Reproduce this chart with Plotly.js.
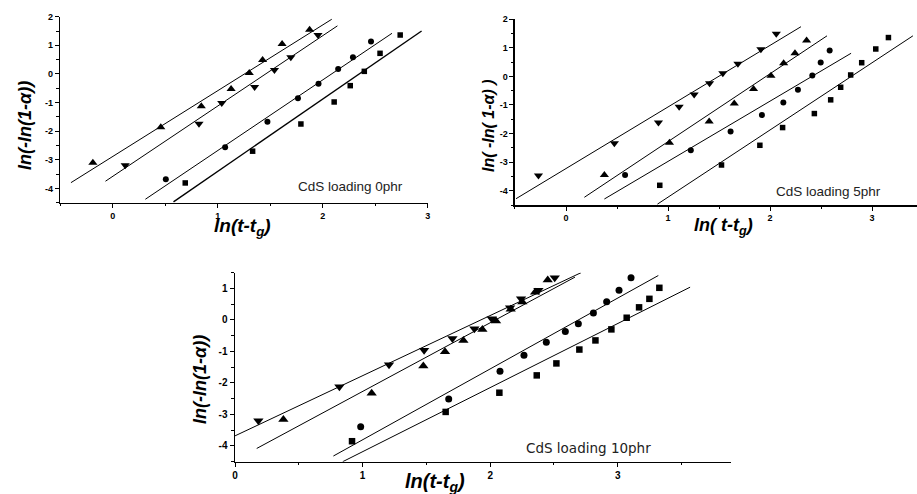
<!DOCTYPE html>
<html>
<head>
<meta charset="utf-8">
<script src="https://cdn.plot.ly/plotly-3.0.1.min.js"></script>
<style>html,body{margin:0;padding:0;background:#fff;}#chart{width:917px;height:494px;}</style>
</head>
<body>
<div id="chart"></div>
<script>
// ---------- Panel 1: CdS loading 0phr ----------
const p1UpX = [-0.19, 0.457, 0.843, 1.127, 1.30, 1.427, 1.613, 1.875];
const p1UpY = [-3.10, -1.86, -1.13, -0.53, 0.03, 0.49, 1.05, 1.54];
const p1DownX = [0.118, 0.821, 1.038, 1.351, 1.54, 1.696, 1.955];
const p1DownY = [-3.19, -1.74, -1.02, -0.46, 0.14, 0.58, 1.36];
const p1CircX = [0.505, 1.07, 1.473, 1.764, 1.96, 2.147, 2.288, 2.46];
const p1CircY = [-3.68, -2.56, -1.67, -0.85, -0.34, 0.17, 0.58, 1.13];
const p1SqX = [0.69, 1.332, 1.792, 2.109, 2.262, 2.396, 2.546, 2.738];
const p1SqY = [-3.81, -2.70, -1.75, -0.98, -0.41, 0.09, 0.72, 1.36];
const p1FitUpX = [-0.399, 2.086], p1FitUpY = [-3.80, 1.91];
const p1FitDownX = [-0.07, 2.14], p1FitDownY = [-3.75, 1.68];
const p1FitCircX = [0.31, 2.66], p1FitCircY = [-4.38, 1.42];
const p1FitSqX = [0.578, 2.942], p1FitSqY = [-4.47, 1.50];

// ---------- Panel 2: CdS loading 5phr ----------
const p2DownX = [-0.27, 0.474, 0.906, 1.109, 1.256, 1.407, 1.537, 1.685, 1.91, 2.061];
const p2DownY = [-3.47, -2.34, -1.61, -1.06, -0.63, -0.24, 0.11, 0.44, 0.95, 1.49];
const p2UpX = [0.376, 1.014, 1.403, 1.649, 1.838, 2.009, 2.133, 2.244, 2.358];
const p2UpY = [-3.45, -2.32, -1.58, -0.95, -0.44, 0.02, 0.46, 0.81, 1.26];
const p2CircX = [0.579, 1.223, 1.613, 1.92, 2.13, 2.273, 2.414, 2.496, 2.584];
const p2CircY = [-3.45, -2.58, -1.93, -1.35, -0.91, -0.47, 0.03, 0.49, 0.91];
const p2SqX = [0.919, 1.524, 1.90, 2.123, 2.434, 2.594, 2.692, 2.79, 2.898, 3.036, 3.16];
const p2SqY = [-3.81, -3.10, -2.41, -1.79, -1.30, -0.82, -0.38, 0.05, 0.48, 0.96, 1.36];
const p2FitDownX = [-0.49, 2.303], p2FitDownY = [-4.28, 1.74];
const p2FitUpX = [0.18, 2.558], p2FitUpY = [-4.23, 1.42];
const p2FitCircX = [0.376, 2.794], p2FitCircY = [-4.29, 0.81];
const p2FitSqX = [0.896, 3.40], p2FitSqY = [-4.47, 1.42];

// ---------- Panel 3: CdS loading 10phr ----------
const p3DownX = [0.183, 0.818, 1.207, 1.482, 1.704, 1.876, 2.012, 2.156, 2.242, 2.378, 2.506];
const p3DownY = [-3.20, -2.12, -1.42, -0.96, -0.59, -0.28, 0.04, 0.39, 0.67, 0.94, 1.34];
const p3UpX = [0.379, 1.071, 1.476, 1.646, 1.79, 1.939, 2.046, 2.161, 2.252, 2.352, 2.451];
const p3UpY = [-3.16, -2.33, -1.46, -1.01, -0.65, -0.30, -0.03, 0.34, 0.57, 0.88, 1.27];
const p3CircX = [0.985, 1.675, 2.077, 2.265, 2.44, 2.589, 2.691, 2.809, 2.913, 3.01, 3.104];
const p3CircY = [-3.39, -2.51, -1.63, -1.12, -0.71, -0.37, -0.12, 0.22, 0.58, 0.94, 1.34];
const p3SqX = [0.917, 1.651, 2.072, 2.365, 2.519, 2.699, 2.825, 2.95, 3.07, 3.167, 3.248, 3.326];
const p3SqY = [-3.85, -2.92, -2.31, -1.76, -1.38, -0.94, -0.65, -0.30, 0.07, 0.40, 0.67, 1.02];
const p3FitDownX = [0.0, 2.712], p3FitDownY = [-3.68, 1.50];
const p3FitUpX = [0.17, 2.665], p3FitUpY = [-4.08, 1.36];
const p3FitCircX = [0.771, 3.318], p3FitCircY = [-4.32, 1.41];
const p3FitSqX = [0.844, 3.567], p3FitSqY = [-4.50, 1.04];

// ---------- Tick labels ----------
const xTickVals = [0, 1, 2, 3];
const xTickText = ['0', '1', '2', '3'];
const yTickVals12 = [-4, -3, -2, -1, 0, 1, 2];
const yTickText12 = ['-4', '-3', '-2', '-1', '0', '1', '2'];
const yTickVals3 = [-4, -3, -2, -1, 0, 1];
const yTickText3 = ['-4', '-3', '-2', '-1', '0', '1'];

const panelLabels = ['CdS loading 0phr', 'CdS loading 5phr', 'CdS loading 10phr'];
const yTitles = ['ln(-ln(1-α))', 'ln( -ln( 1-α) )', 'ln(-ln(1-α))'];

function pts(x, y, sym, size, ax) {
  return {x: x, y: y, mode: 'markers', type: 'scatter', xaxis: 'x' + ax, yaxis: 'y' + ax,
    marker: {symbol: sym, size: size, color: '#000', line: {width: 0}}, hoverinfo: 'skip', cliponaxis: false};
}
function fit(x, y, ax, w) {
  return {x: x, y: y, mode: 'lines', type: 'scatter', xaxis: 'x' + ax, yaxis: 'y' + ax,
    line: {color: '#000', width: w || 1}, hoverinfo: 'skip'};
}

const data = [
  fit(p1FitUpX, p1FitUpY, ''), fit(p1FitDownX, p1FitDownY, ''), fit(p1FitCircX, p1FitCircY, ''), fit(p1FitSqX, p1FitSqY, '', 1.4),
  pts(p1UpX, p1UpY, 'triangle-up', 8, ''), pts(p1DownX, p1DownY, 'triangle-down', 8, ''),
  pts(p1CircX, p1CircY, 'circle', 6, ''), pts(p1SqX, p1SqY, 'square', 5.5, ''),

  fit(p2FitDownX, p2FitDownY, '2'), fit(p2FitUpX, p2FitUpY, '2'), fit(p2FitCircX, p2FitCircY, '2'), fit(p2FitSqX, p2FitSqY, '2'),
  pts(p2DownX, p2DownY, 'triangle-down', 8, '2'), pts(p2UpX, p2UpY, 'triangle-up', 8, '2'),
  pts(p2CircX, p2CircY, 'circle', 6, '2'), pts(p2SqX, p2SqY, 'square', 5.5, '2'),

  fit(p3FitDownX, p3FitDownY, '3'), fit(p3FitUpX, p3FitUpY, '3'), fit(p3FitCircX, p3FitCircY, '3'), fit(p3FitSqX, p3FitSqY, '3'),
  pts(p3DownX, p3DownY, 'triangle-down', 9, '3'), pts(p3UpX, p3UpY, 'triangle-up', 9, '3'),
  pts(p3CircX, p3CircY, 'circle', 7, '3'), pts(p3SqX, p3SqY, 'square', 6.5, '3')
];

const tf = {family: 'Liberation Sans, Arial, sans-serif', size: 9, color: '#000', weight: 'bold'};
function xa(domain, range, anchor, fs) {
  return {domain: domain, range: range, anchor: anchor, showgrid: false, zeroline: false,
    showline: true, linecolor: '#000', linewidth: 1.5,
    tickmode: 'array', tickvals: xTickVals, ticktext: xTickText,
    ticks: 'outside', ticklen: 4, tickwidth: 1, tickcolor: '#000',
    minor: {dtick: 0.5, tick0: 0, ticks: 'outside', ticklen: 2, tickwidth: 1, tickcolor: '#000'},
    tickfont: Object.assign({}, tf, {size: fs}), fixedrange: true};
}
function ya(domain, range, anchor, vals, text, fs) {
  return {domain: domain, range: range, anchor: anchor, showgrid: false, zeroline: false,
    showline: true, linecolor: '#000', linewidth: 1.5,
    tickmode: 'array', tickvals: vals, ticktext: text,
    ticks: 'outside', ticklen: 4, tickwidth: 1, tickcolor: '#000',
    minor: {dtick: 0.5, tick0: 0, ticks: 'outside', ticklen: 2.5, tickwidth: 1, tickcolor: '#000'},
    tickfont: Object.assign({}, tf, {size: fs}), fixedrange: true};
}

const titleFont = {family: 'Liberation Sans, Arial, sans-serif', size: 18, color: '#000'};
const labFont = {family: 'Liberation Sans, Arial, sans-serif', size: 13.5, color: '#222'};

const layout = {
  width: 917, height: 494, showlegend: false,
  margin: {l: 0, r: 0, t: 0, b: 0},
  paper_bgcolor: '#fff', plot_bgcolor: 'rgba(0,0,0,0)',
  xaxis: xa([0.0658, 0.4664], [-0.5, 3], 'y', 9),
  yaxis: ya([0.5897, 0.9662], [-4.5, 2], 'x', yTickVals12, yTickText12, 9),
  xaxis2: xa([0.5616, 1.0], [-0.5, 3.44], 'y2', 9),
  yaxis2: ya([0.585, 0.961], [-4.5, 2], 'x2', yTickVals12, yTickText12, 9),
  xaxis3: xa([0.2563, 0.7968], [0, 3.885], 'y3', 10),
  yaxis3: ya([0.0654, 0.448], [-4.5, 1.5], 'x3', yTickVals3, yTickText3, 10),
  annotations: [
    {xref: 'paper', yref: 'paper', x: 350 / 917, y: 1 - 187 / 494, text: panelLabels[0], showarrow: false, font: labFont, xanchor: 'center', yanchor: 'middle'},
    {xref: 'paper', yref: 'paper', x: 828 / 917, y: 1 - 191 / 494, text: panelLabels[1], showarrow: false, font: labFont, xanchor: 'center', yanchor: 'middle'},
    {xref: 'paper', yref: 'paper', x: 588 / 917, y: 1 - 448 / 494, text: panelLabels[2], showarrow: false,
      font: {family: 'DejaVu Sans, sans-serif', size: 13.5, color: '#222'}, xanchor: 'center', yanchor: 'middle'},

    {xref: 'paper', yref: 'paper', x: 25 / 917, y: 1 - 126 / 494, text: '<b><i>' + yTitles[0] + '</i></b>', textangle: -90, showarrow: false, font: titleFont, xanchor: 'center', yanchor: 'middle'},
    {xref: 'paper', yref: 'paper', x: 488 / 917, y: 1 - 126 / 494, text: '<b><i>' + yTitles[1] + '</i></b>', textangle: -90, showarrow: false, font: Object.assign({}, titleFont, {size: 16}), xanchor: 'center', yanchor: 'middle'},
    {xref: 'paper', yref: 'paper', x: 200 / 917, y: 1 - 380 / 494, text: '<b><i>' + yTitles[2] + '</i></b>', textangle: -90, showarrow: false, font: titleFont, xanchor: 'center', yanchor: 'middle'},

    {xref: 'paper', yref: 'paper', x: 242 / 917, y: 1 - 227 / 494, text: '<b><i>ln(t-t<sub>g</sub>)</i></b>', showarrow: false, font: Object.assign({}, titleFont, {size: 19}), xanchor: 'center', yanchor: 'middle'},
    {xref: 'paper', yref: 'paper', x: 723 / 917, y: 1 - 226 / 494, text: '<b><i>ln( t-t<sub>g</sub>)</i></b>', showarrow: false, font: Object.assign({}, titleFont, {size: 18}), xanchor: 'center', yanchor: 'middle'},
    {xref: 'paper', yref: 'paper', x: 435 / 917, y: 1 - 482 / 494, text: '<b><i>ln(t-t<sub>g</sub>)</i></b>', showarrow: false, font: Object.assign({}, titleFont, {size: 20}), xanchor: 'center', yanchor: 'middle'}
  ]
};

Plotly.newPlot('chart', data, layout, {staticPlot: true, displayModeBar: false});
</script>
</body>
</html>
